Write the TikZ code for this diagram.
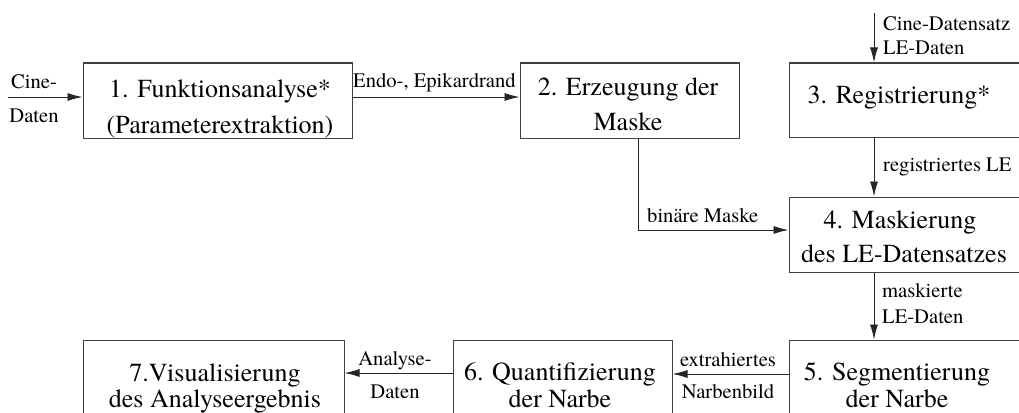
\documentclass[tikz,border=0pt]{standalone}
\usepackage{fontspec}
\setmainfont{texgyretermes}[Extension=.otf, UprightFont=*-regular, BoldFont=*-bold, ItalicFont=*-italic, BoldItalicFont=*-bolditalic]
\newfontfamily\tms{texgyretermes}[Extension=.otf, UprightFont=*-regular]
\usetikzlibrary{arrows.meta}
\tikzset{
  box/.style={draw=black!75, line width=1pt, inner sep=0pt, fill=none},
  btext/.style={anchor=base, inner sep=0pt},
  lbl/.style={inner sep=0pt, font=\tms\fontsize{20.6}{24}\selectfont},
  arr/.style={draw=black!85, line width=0.9pt, -{Latex[length=15pt,width=8pt]}},
  ln/.style={draw=black!85, line width=0.9pt}
}
\newcommand{\twol}[2]{\begin{tabular}[t]{@{}c@{}}#1\\#2\end{tabular}}
\begin{document}
\begin{tikzpicture}[x=1pt,y=-1pt]
\clip (0,0) rectangle (1019,412);
\useasboundingbox (0,0) rectangle (1019,412);
% boxes
\node[box, minimum width=269pt, minimum height=75pt] (b1) at (217.5,100.5) {};
\node[box, minimum width=219pt, minimum height=75pt] (b2) at (629.5,100.5) {};
\node[box, minimum width=241pt, minimum height=74pt] (b3) at (909.5,100) {};
\node[box, minimum width=241pt, minimum height=75pt] (b4) at (909.5,234.5) {};
\node[box, minimum width=241pt, minimum height=80pt] (b5) at (909.5,380) {};
\node[box, minimum width=219pt, minimum height=80pt] (b6) at (562.5,380) {};
\node[box, minimum width=261pt, minimum height=80pt] (b7) at (213.5,380) {};
% box texts
\node[btext, font=\tms\fontsize{26}{36}\selectfont] (t1) at (220,97) {\twol{1. Funktionsanalyse*}{(Parameterextraktion)}};
\node[btext, font=\tms\fontsize{26}{35}\selectfont] (t2) at (628,95) {\twol{2. Erzeugung der}{Maske\hspace{28pt}}};
\node[btext, font=\tms\fontsize{26}{34}\selectfont] (t3) at (899,103) {3. Registrierung*};
\node[btext, font=\tms\fontsize{26}{34}\selectfont] (t4) at (900,228) {\twol{4. Maskierung}{\hspace{8pt}des LE-Datensatzes}};
\node[btext, font=\tms\fontsize{26}{27}\selectfont] (t5) at (897,380) {\twol{5. Segmentierung}{der Narbe\hspace{20pt}}};
\node[btext, font=\tms\fontsize{26}{27}\selectfont] (t6) at (560,380) {\twol{6. Quantifizierung}{der Narbe}};
\node[btext, font=\tms\fontsize{26}{26}\selectfont] (t7) at (215,381) {\twol{7.Visualisierung\hspace{8pt}}{des Analyseergebnis}};
% helper coordinates
\coordinate (in1) at (8,97);
\coordinate (in3) at (874,13);
\coordinate (c2) at (638,230);
\coordinate (y56) at (0,374);
\coordinate (y67) at (0,373);
% connectors
\draw[arr] (in1) -- (in1 -| b1.west);
\draw[arr] (in1 -| b1.east) -- (in1 -| b2.west);
\draw[arr] (in3) -- (in3 |- b3.north);
\draw[arr] (in3 |- b3.south) -- (in3 |- b4.north);
\draw[arr] (c2 |- b2.south) -- (c2) -- (c2 -| b4.west);
\draw[arr] (in3 |- b4.south) -- (in3 |- b5.north);
\draw[arr] (y56 -| b5.west) -- (y56 -| b6.east);
\draw[arr] (y67 -| b6.west) -- (y67 -| b7.east);
% labels
\node[lbl, anchor=base] (l1a) at (34,88) {Cine-};
\node[lbl, anchor=base] (l1b) at (34,122) {Daten};
\node[lbl, anchor=base west] (l12) at (353,87) {Endo-, Epikardrand};
\node[lbl, anchor=base west] (l3a) at (883,31) {Cine-Datensatz};
\node[lbl, anchor=base west] (l3b) at (883,55) {LE-Daten};
\node[lbl, anchor=base west] (l34) at (883,171) {registriertes LE};
\node[lbl, anchor=base west] (l24) at (647,222) {binäre Maske};
\node[lbl, anchor=base west] (l45a) at (882,297) {maskierte};
\node[lbl, anchor=base west] (l45b) at (882,323) {LE-Daten};
\node[lbl, anchor=base] (l56a) at (728,366) {extrahiertes};
\node[lbl, anchor=base] (l56b) at (728,398) {Narbenbild};
\node[lbl, anchor=base] (l67a) at (395,365) {Analyse-};
\node[lbl, anchor=base] (l67b) at (395,398) {Daten};
\end{tikzpicture}
\end{document}
